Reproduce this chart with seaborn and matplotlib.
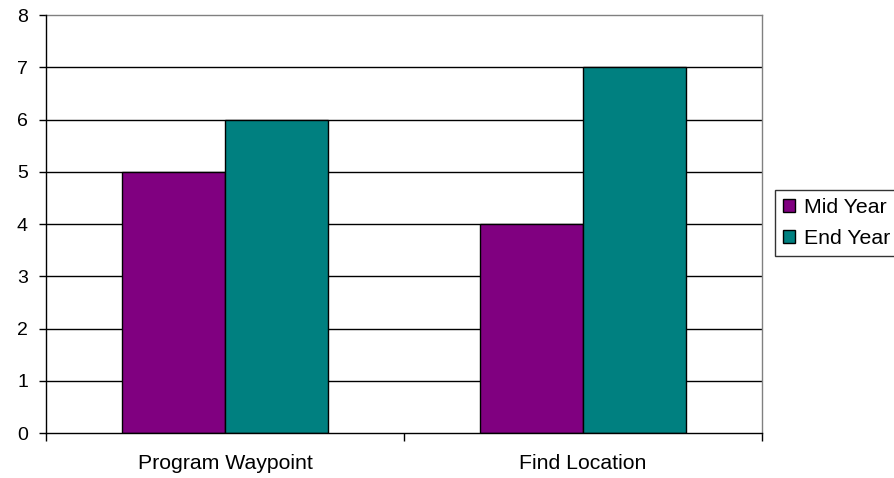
import matplotlib
matplotlib.use("Agg")
import matplotlib.pyplot as plt
import seaborn as sns
import pandas as pd

categories = ["Program Waypoint", "Find Location"]
series = ["Mid Year", "End Year"]
mid_year = [5, 4]
end_year = [6, 7]
y_ticks = [0, 1, 2, 3, 4, 5, 6, 7, 8]

df = pd.DataFrame({
    "task": categories * 2,
    "period": [series[0]] * 2 + [series[1]] * 2,
    "score": mid_year + end_year,
})

sns.set_style("white")
plt.rcParams["font.family"] = ["Liberation Sans", "DejaVu Sans"]
plt.rcParams["text.color"] = "black"
plt.rcParams["xtick.color"] = "black"
plt.rcParams["ytick.color"] = "black"

FS = 15.3

fig = plt.figure(figsize=(8.94, 4.78), dpi=100)
ax = fig.add_axes([0.0515, 0.0941, 0.8005, 0.8745])

sns.barplot(data=df, x="task", y="score", hue="period", order=categories,
            hue_order=series, palette=["#800080", "#008080"],
            width=0.575, gap=0, edgecolor="black", linewidth=1,
            saturation=1, errorbar=None, ax=ax, zorder=3)

ax.set_ylim(0, 8)
ax.set_xlim(-0.5, 1.5)
ax.set_yticks(y_ticks)
ax.set_yticklabels([str(v) for v in y_ticks], fontsize=14)
ax.set_xticks([-0.5, 0.5, 1.5], minor=False)
ax.set_xticklabels([])
ax.set_xticks([0, 1], minor=True)
ax.set_xticklabels(categories, minor=True, fontsize=FS)
ax.tick_params(axis="x", which="minor", length=0, pad=15)
ax.tick_params(axis="x", which="major", length=6, width=1, direction="out", bottom=True)
ax.tick_params(axis="y", length=5, width=1, direction="out", left=True, pad=8)
ax.set_xlabel("")
ax.set_ylabel("")

for v in y_ticks[1:-1]:
    ax.axhline(v, color="black", linewidth=1, zorder=1)

for side in ["left", "bottom"]:
    ax.spines[side].set_color("black")
    ax.spines[side].set_linewidth(1)
    ax.spines[side].set_zorder(4)
for side in ["right", "top"]:
    ax.spines[side].set_visible(True)
    ax.spines[side].set_color("#808080")
    ax.spines[side].set_linewidth(1)

leg = ax.legend(loc="center left", bbox_to_anchor=(0.867, 0.5335),
                bbox_transform=fig.transFigure, frameon=True, fancybox=False,
                edgecolor="black", fontsize=FS, handlelength=0.55,
                handleheight=0.55, handletextpad=0.45, borderpad=0.37,
                labelspacing=0.58, borderaxespad=0)
leg.get_frame().set_linewidth(1)
for h in leg.legend_handles:
    h.set_edgecolor("black")
    h.set_linewidth(1)

fig.savefig("out.png", dpi=100)
